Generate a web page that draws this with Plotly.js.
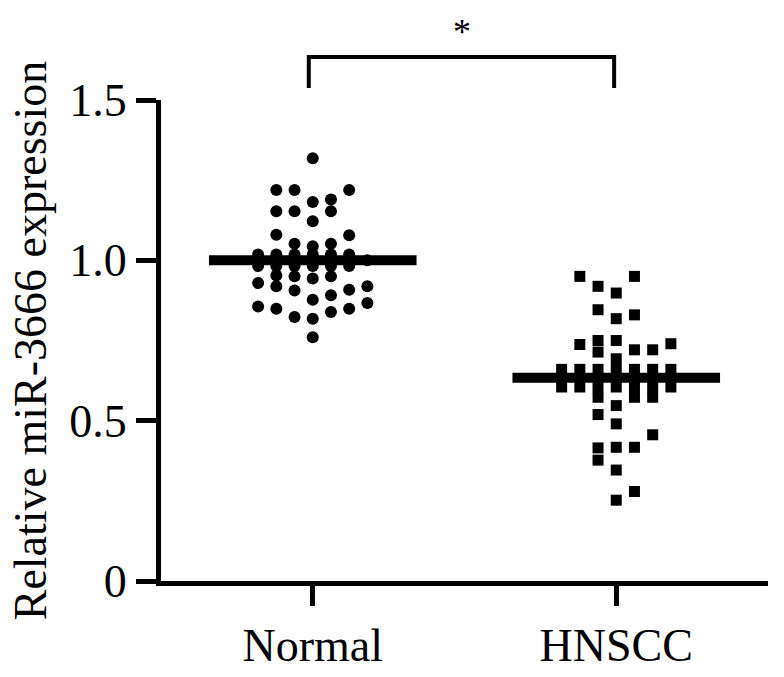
<!DOCTYPE html>
<html>
<head>
<meta charset="utf-8">
<script src="https://cdn.plot.ly/plotly-3.0.1.min.js"></script>
<style>html,body{margin:0;padding:0;background:#fff;}#chart{width:784px;height:677px;}</style>
</head>
<body>
<div id="chart"></div>
<script>
// Group categories and tick labels
const categories = ['Normal', 'HNSCC'];
const yTickVals = [0, 0.5, 1.0, 1.5];
const yTickText = ['0', '0.5', '1.0', '1.5'];

// Normal: relative expression values and their column (horizontal spread slot)
const normalValues = [1.318, 1.219, 1.219, 1.219, 1.182, 1.19, 1.153, 1.153, 1.153, 1.122,
  1.080, 1.078, 1.052, 1.044, 1.052,
  1.018, 0.982, 1.018, 0.982, 1.018, 0.982, 1.018, 0.982, 1.018, 0.982, 1.018, 0.982, 1.0,
  0.953, 0.95, 0.95, 0.943, 0.929, 0.919, 0.906, 0.908, 0.919, 0.877,
  0.891, 0.867, 0.856, 0.849, 0.849, 0.839, 0.823, 0.818, 0.760];
const normalCols = [0, -2, -1, 2, 0, 1, -2, -1, 1, 0,
  -2, 2, -1, 0, 1,
  -3, -3, -2, -2, -1, -1, 0, 0, 1, 1, 2, 2, 3,
  -2, -1, 1, 0, -3, -2, -1, 2, 3, 0,
  1, 3, -3, -2, 2, 1, -1, 0, 0];

// HNSCC: relative expression values and their column
const hnsccValues = [0.95, 0.95, 0.919, 0.898, 0.846, 0.818, 0.830, 0.7375, 0.75, 0.714,
  0.75, 0.721, 0.721, 0.740, 0.693,
  0.66, 0.605, 0.66, 0.605, 0.66, 0.605, 0.66, 0.605, 0.66, 0.605, 0.66, 0.605, 0.66, 0.605,
  0.573, 0.573, 0.573, 0.547, 0.519, 0.490, 0.456, 0.415, 0.377, 0.417,
  0.417, 0.346, 0.279, 0.252];
const hnsccCols = [-2, 1, -1, 0, -1, 0, 1, -2, -1, -1,
  0, 1, 2, 3, 0,
  -3, -3, -2, -2, -1, -1, 0, 0, 1, 1, 2, 2, 3, 3,
  -1, 1, 2, 0, -1, 0, 2, -1, -1, 0,
  1, 0, 1, 0];

// Group means (horizontal bars)
const meanValues = [1.0, 0.634];
const significance = '*';

const colStep = 0.06;
const halfBar = 0.342;
const font = 'Liberation Serif, Times New Roman, serif';

const traces = [
  {
    type: 'scatter', mode: 'markers',
    x: normalCols.map(c => 0 + c * colStep), y: normalValues,
    marker: {symbol: 'circle', size: 12, color: '#000'},
    cliponaxis: false, hoverinfo: 'skip'
  },
  {
    type: 'scatter', mode: 'markers',
    x: hnsccCols.map(c => 1 + c * colStep), y: hnsccValues,
    marker: {symbol: 'square', size: 11, color: '#000'},
    cliponaxis: false, hoverinfo: 'skip'
  }
];
meanValues.forEach((m, i) => {
  traces.push({
    type: 'scatter', mode: 'lines',
    x: [i - halfBar, i + halfBar], y: [m, m],
    line: {color: '#000', width: 10},
    hoverinfo: 'skip'
  });
});

const layout = {
  width: 784, height: 677,
  margin: {l: 161, r: 16, t: 100, b: 96},
  paper_bgcolor: '#fff', plot_bgcolor: '#fff',
  showlegend: false,
  font: {family: font, size: 46, color: '#000'},
  xaxis: {
    range: [-0.5, 1.5],
    tickvals: [0, 1], ticktext: categories,
    showline: true, linecolor: '#000', linewidth: 5,
    ticks: 'outside', ticklen: 20, tickwidth: 5, tickcolor: '#000',
    showgrid: false, zeroline: false,
    tickfont: {family: font, size: 46, color: '#000'}
  },
  yaxis: {
    range: [0, 1.5],
    tickvals: yTickVals, ticktext: yTickText,
    showline: true, linecolor: '#000', linewidth: 5,
    ticks: 'outside', ticklen: 20, tickwidth: 5, tickcolor: '#000',
    showgrid: false, zeroline: false,
    tickfont: {family: font, size: 46, color: '#000'},
    title: {text: 'Relative miR-3666 expression', font: {family: font, size: 46, color: '#000'}, standoff: 10}
  },
  shapes: [{
    type: 'path', xref: 'x', yref: 'paper',
    path: 'M -0.013,1.025 L -0.013,1.0894 L 0.993,1.0894 L 0.993,1.025',
    line: {color: '#000', width: 4}
  }],
  annotations: [{
    text: significance, xref: 'x', yref: 'paper', x: 0.493, y: 1.142,
    showarrow: false, font: {family: font, size: 36, color: '#000'},
    xanchor: 'center', yanchor: 'middle'
  }]
};

Plotly.newPlot('chart', traces, layout, {displayModeBar: false, staticPlot: true});
</script>
</body>
</html>
